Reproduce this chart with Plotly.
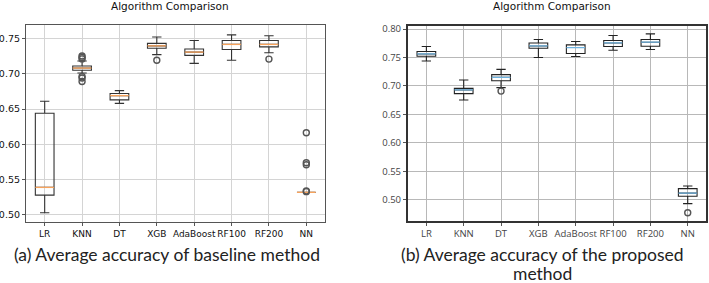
import plotly.graph_objects as go

categories = ["LR", "KNN", "DT", "XGB", "AdaBoost", "RF100", "RF200", "NN"]
positions = list(range(1, len(categories) + 1))

# (a) baseline method
a_low = [0.503, 0.701, 0.658, 0.727, 0.7146, 0.719, 0.7296, 0.532]
a_q1 = [0.528, 0.705, 0.663, 0.736, 0.726, 0.7344, 0.738, 0.532]
a_med = [0.539, 0.708, 0.669, 0.7395, 0.7306, 0.7415, 0.7415, 0.532]
a_q3 = [0.644, 0.711, 0.672, 0.743, 0.735, 0.747, 0.747, 0.532]
a_high = [0.661, 0.718, 0.676, 0.752, 0.747, 0.755, 0.7537, 0.532]
a_out_cat = ["KNN", "KNN", "KNN", "KNN", "KNN", "KNN", "XGB", "RF200", "NN", "NN", "NN", "NN", "NN"]
a_out_val = [0.725, 0.723, 0.721, 0.696, 0.694, 0.689, 0.719, 0.7207, 0.6163, 0.574, 0.571, 0.534, 0.533]

# (b) proposed method
b_low = [0.744, 0.6754, 0.697, 0.750, 0.7518, 0.7628, 0.7641, 0.493]
b_q1 = [0.7523, 0.6866, 0.7093, 0.7664, 0.757, 0.7694, 0.7699, 0.506]
b_med = [0.7563, 0.693, 0.7151, 0.7704, 0.7676, 0.7757, 0.777, 0.5115]
b_q3 = [0.7606, 0.6958, 0.7199, 0.7757, 0.7722, 0.780, 0.7817, 0.5194]
b_high = [0.7694, 0.7106, 0.7292, 0.7817, 0.7782, 0.7887, 0.7916, 0.5241]
b_out_cat = ["DT", "NN"]
b_out_val = [0.691, 0.4771]

a_ticks = [0.50, 0.55, 0.60, 0.65, 0.70, 0.75]
b_ticks = [0.50, 0.55, 0.60, 0.65, 0.70, 0.75, 0.80]

title_text = "Algorithm Comparison"
caption_a = "(a) Average accuracy of baseline method"
caption_b1 = "(b) Average accuracy of the proposed"
caption_b2 = "method"

W, H = 709, 283

def px_x(p):
    return p / W

def px_y(p):
    return 1 - p / H

fig = go.Figure()

def add_panel(xa, ya, low, q1, med, q3, high, out_cat, out_val, med_color, line_color):
    fig.add_trace(go.Box(
        x=positions, q1=q1, median=med, q3=q3, lowerfence=low, upperfence=high,
        width=0.5, whiskerwidth=0.5, fillcolor="rgba(255,255,255,0)",
        line=dict(color=line_color, width=1.1), boxpoints=False,
        xaxis=xa, yaxis=ya, showlegend=False, hoverinfo="skip",
    ))
    mx, my = [], []
    for p, m in zip(positions, med):
        mx += [p - 0.25, p + 0.25, None]
        my += [m, m, None]
    fig.add_trace(go.Scatter(
        x=mx, y=my, mode="lines", line=dict(color=med_color, width=1.3),
        xaxis=xa, yaxis=ya, showlegend=False, hoverinfo="skip",
    ))
    ox = [positions[categories.index(c)] for c in out_cat]
    fig.add_trace(go.Scatter(
        x=ox, y=out_val, mode="markers",
        marker=dict(symbol="circle-open", size=6, color="#555555", line=dict(width=1.4)),
        xaxis=xa, yaxis=ya, showlegend=False, hoverinfo="skip",
    ))

add_panel("x", "y", a_low, a_q1, a_med, a_q3, a_high, a_out_cat, a_out_val, "#f7a35c", "#333333")
add_panel("x2", "y2", b_low, b_q1, b_med, b_q3, b_high, b_out_cat, b_out_val, "#6fb3e0", "#222222")

tick_font_a = dict(family="DejaVu Sans", size=9, color="#111111")
tick_font_b = dict(family="Open Sans", size=9.5, color="#444444")

common = dict(showgrid=True, gridwidth=1, zeroline=False, showline=True, mirror=True,
              ticks="outside", ticklen=3, automargin=False)

fig.update_layout(
    width=W, height=H, margin=dict(l=0, r=0, t=0, b=0),
    paper_bgcolor="white", plot_bgcolor="white",
    xaxis=dict(domain=[px_x(26), px_x(325)], range=[0.5, 8.5], tickvals=positions, ticktext=categories,
               gridcolor="#d4d4d4", linecolor="#555555", linewidth=1.2, tickangle=0,
               tickcolor="#555555", tickfont=tick_font_a, anchor="y", **common),
    yaxis=dict(domain=[px_y(222), px_y(25)], range=[0.490, 0.769], tickvals=a_ticks,
               tickformat=".2f", gridcolor="#d4d4d4", linecolor="#555555", linewidth=1.2,
               tickcolor="#555555", tickfont=dict(family="DejaVu Sans", size=9.5, color="#111111"),
               anchor="x", **common),
    xaxis2=dict(domain=[px_x(407.7), px_x(706.4)], range=[0.5, 8.5], tickvals=positions, ticktext=categories,
                gridcolor="#b8b8b8", linecolor="#333333", linewidth=1.5, tickangle=0,
                tickcolor="#555555", tickfont=tick_font_b, anchor="y2", **common),
    yaxis2=dict(domain=[px_y(221), px_y(25.7)], range=[0.4625, 0.806], tickvals=b_ticks,
                tickformat=".2f", gridcolor="#b8b8b8", linecolor="#333333", linewidth=1.5,
                tickcolor="#555555", tickfont=tick_font_b, anchor="x2", **common),
)

def note(text, x, y, size, family, weight="normal", color="#111111"):
    fig.add_annotation(text=text, x=px_x(x), y=px_y(y), xref="paper", yref="paper",
                       showarrow=False, xanchor="center", yanchor="middle",
                       font=dict(family=family, size=size, color=color, weight=weight))

note(title_text, 170, 6, 10.5, "DejaVu Sans")
note(title_text, 552, 6, 10.5, "DejaVu Sans")
note(caption_a, 167, 254, 17.5, "Lato", "normal", "#222222")
note(caption_b1, 542, 254, 17.5, "Lato", "normal", "#222222")
note(caption_b2, 542, 273, 17.5, "Lato", "normal", "#222222")

fig.write_html("out.html", config={"displayModeBar": False},
               post_script="document.body.style.margin='0';document.body.style.overflow='hidden';")
